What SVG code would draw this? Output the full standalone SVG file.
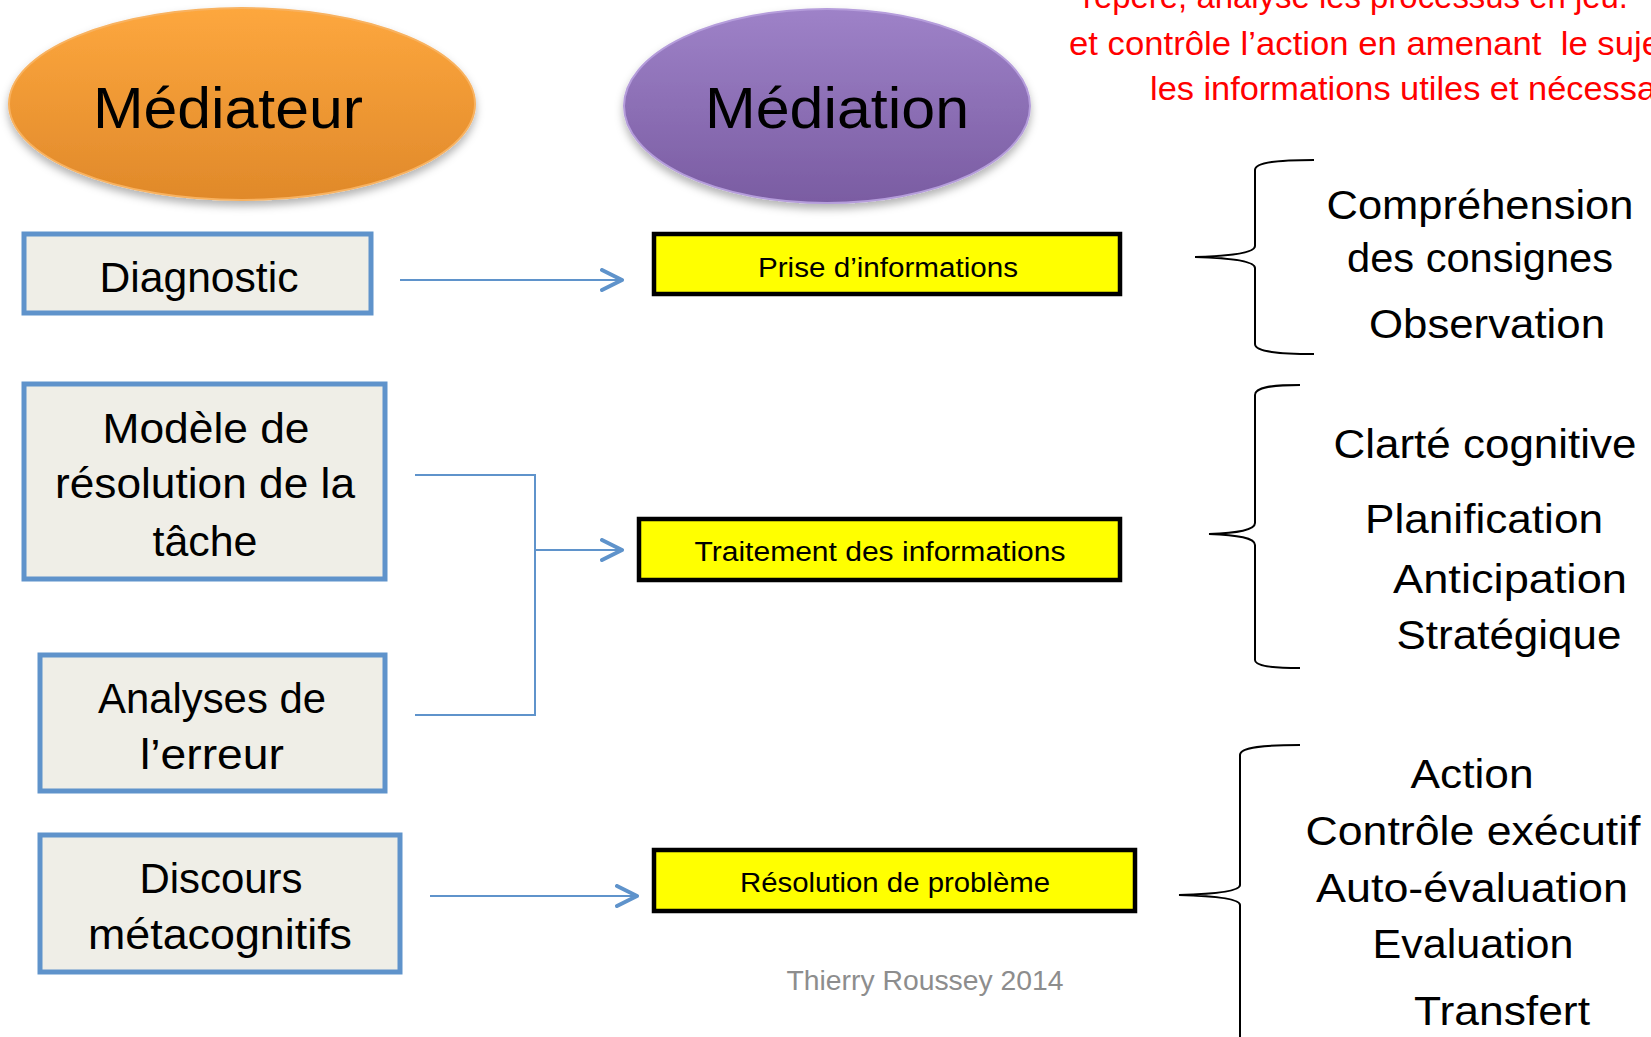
<svg xmlns="http://www.w3.org/2000/svg" width="1651" height="1037" viewBox="0 0 1651 1037">
<defs>
  <linearGradient id="gOrange" x1="0" y1="0" x2="0" y2="1">
    <stop offset="0" stop-color="#fda73e"/>
    <stop offset="1" stop-color="#e0892a"/>
  </linearGradient>
  <linearGradient id="gPurple" x1="0" y1="0" x2="0" y2="1">
    <stop offset="0" stop-color="#9e82c8"/>
    <stop offset="1" stop-color="#7a5ca2"/>
  </linearGradient>
  <filter id="shadow" x="-10%" y="-10%" width="120%" height="130%">
    <feDropShadow dx="0" dy="5" stdDeviation="4" flood-color="#000" flood-opacity="0.3"/>
  </filter>
  <marker id="chev" viewBox="0 0 24 24" refX="22" refY="12" markerWidth="24" markerHeight="24" markerUnits="userSpaceOnUse" orient="auto">
    <path d="M2,2 L22,12 L2,22" fill="none" stroke="#5f93cb" stroke-width="4" stroke-linecap="round" stroke-linejoin="round"/>
  </marker>
</defs>
<style>
  text { font-family: "Liberation Sans", Arial, sans-serif; fill: #000; }
  .box { fill: #efeee7; stroke: #5f93cb; stroke-width: 5; }
  .yel { fill: #ffff00; stroke: #000; stroke-width: 4.5; }
  .conn { fill: none; stroke: #5f93cb; stroke-width: 2; }
  .brace { fill: none; stroke: #000; stroke-width: 2; }
  .big { font-size: 57px; }
  .mid { font-size: 42px; }
  .rt { font-size: 40px; }
  .sm { font-size: 27px; }
  .red { font-size: 33px; fill: #ff0000; }
</style>

<g id="red-note">
  <text class="red" x="1083" y="8" textLength="545" lengthAdjust="spacingAndGlyphs">repère, analyse les processus en jeu.</text>
  <text class="red" x="1069" y="55" xml:space="preserve" textLength="592" lengthAdjust="spacingAndGlyphs">et contrôle l’action en amenant  le suje</text>
  <text class="red" x="1150" y="100" textLength="506" lengthAdjust="spacingAndGlyphs">les informations utiles et nécessa</text>
</g>

<g id="mediateur">
  <ellipse cx="242" cy="104" rx="233" ry="96" fill="url(#gOrange)" stroke="#f8b260" stroke-width="2" filter="url(#shadow)"/>
  <text class="big" x="228" y="128" text-anchor="middle" textLength="270" lengthAdjust="spacingAndGlyphs">Médiateur</text>
</g>

<g id="mediation">
  <ellipse cx="827" cy="106" rx="203" ry="97" fill="url(#gPurple)" stroke="#b59ddb" stroke-width="2" filter="url(#shadow)"/>
  <text class="big" x="837" y="128" text-anchor="middle" textLength="264" lengthAdjust="spacingAndGlyphs">Médiation</text>
</g>

<g id="diagnostic">
  <rect class="box" x="24" y="234" width="347" height="79"/>
  <text class="mid" x="199" y="292" text-anchor="middle" textLength="199" lengthAdjust="spacingAndGlyphs">Diagnostic</text>
</g>

<g id="modele">
  <rect class="box" x="24" y="384" width="361" height="195"/>
  <text class="mid" x="206" y="443" text-anchor="middle" textLength="207" lengthAdjust="spacingAndGlyphs">Modèle de</text>
  <text class="mid" x="205" y="498" text-anchor="middle" textLength="300" lengthAdjust="spacingAndGlyphs">résolution de la</text>
  <text class="mid" x="205" y="556" text-anchor="middle" textLength="105" lengthAdjust="spacingAndGlyphs">tâche</text>
</g>

<g id="analyses">
  <rect class="box" x="40" y="655" width="345" height="136"/>
  <text class="mid" x="212" y="713" text-anchor="middle" textLength="228" lengthAdjust="spacingAndGlyphs">Analyses de</text>
  <text class="mid" x="212" y="769" text-anchor="middle" textLength="144" lengthAdjust="spacingAndGlyphs">l’erreur</text>
</g>

<g id="discours">
  <rect class="box" x="40" y="835" width="360" height="137"/>
  <text class="mid" x="221" y="893" text-anchor="middle" textLength="163" lengthAdjust="spacingAndGlyphs">Discours</text>
  <text class="mid" x="220" y="949" text-anchor="middle" textLength="264" lengthAdjust="spacingAndGlyphs">métacognitifs</text>
</g>

<g id="prise">
  <rect class="yel" x="654" y="234" width="466" height="60"/>
  <text class="sm" x="888" y="277" text-anchor="middle" textLength="260" lengthAdjust="spacingAndGlyphs">Prise d’informations</text>
</g>

<g id="traitement">
  <rect class="yel" x="639" y="519" width="481" height="61"/>
  <text class="sm" x="880" y="561" text-anchor="middle" textLength="371" lengthAdjust="spacingAndGlyphs">Traitement des informations</text>
</g>

<g id="resolution">
  <rect class="yel" x="654" y="850" width="481" height="61"/>
  <text class="sm" x="895" y="892" text-anchor="middle" textLength="310" lengthAdjust="spacingAndGlyphs">Résolution de problème</text>
</g>

<g id="connectors">
  <line class="conn" x1="400" y1="280" x2="622" y2="280" marker-end="url(#chev)"/>
  <polyline class="conn" points="415,475 535,475 535,715 415,715"/>
  <line class="conn" x1="535" y1="550" x2="622" y2="550" marker-end="url(#chev)"/>
  <line class="conn" x1="430" y1="896" x2="637" y2="896" marker-end="url(#chev)"/>
</g>

<g id="brace-prise">
  <path class="brace" d="M1314,160 C1280,160 1255,162 1255,170 L1255,246 C1255,253 1232,256 1195,257 C1232,258 1255,261 1255,268 L1255,344 C1255,352 1280,354 1314,354"/>
  <text class="rt" x="1480" y="219" text-anchor="middle" textLength="307" lengthAdjust="spacingAndGlyphs">Compréhension</text>
  <text class="rt" x="1480" y="272" text-anchor="middle" textLength="266" lengthAdjust="spacingAndGlyphs">des consignes</text>
  <text class="rt" x="1487" y="338" text-anchor="middle" textLength="236" lengthAdjust="spacingAndGlyphs">Observation</text>
</g>

<g id="brace-traitement">
  <path class="brace" d="M1300,385 C1272,385 1255,387 1255,395 L1255,523 C1255,530 1238,533 1209,534 C1238,535 1255,538 1255,545 L1255,660 C1255,666 1272,668 1300,668"/>
  <text class="rt" x="1485" y="458" text-anchor="middle" textLength="303" lengthAdjust="spacingAndGlyphs">Clarté cognitive</text>
  <text class="rt" x="1484" y="533" text-anchor="middle" textLength="238" lengthAdjust="spacingAndGlyphs">Planification</text>
  <text class="rt" x="1510" y="593" text-anchor="middle" textLength="234" lengthAdjust="spacingAndGlyphs">Anticipation</text>
  <text class="rt" x="1509" y="649" text-anchor="middle" textLength="225" lengthAdjust="spacingAndGlyphs">Stratégique</text>
</g>

<g id="brace-resolution">
  <path class="brace" d="M1300,745 C1265,745 1240,747 1240,755 L1240,885 C1240,891 1215,894 1179,895 C1215,896 1240,899 1240,905 L1240,1060"/>
  <text class="rt" x="1472" y="788" text-anchor="middle" textLength="123" lengthAdjust="spacingAndGlyphs">Action</text>
  <text class="rt" x="1473" y="845" text-anchor="middle" textLength="335" lengthAdjust="spacingAndGlyphs">Contrôle exécutif</text>
  <text class="rt" x="1472" y="902" text-anchor="middle" textLength="312" lengthAdjust="spacingAndGlyphs">Auto-évaluation</text>
  <text class="rt" x="1473" y="958" text-anchor="middle" textLength="201" lengthAdjust="spacingAndGlyphs">Evaluation</text>
  <text class="rt" x="1502" y="1025" text-anchor="middle" textLength="176" lengthAdjust="spacingAndGlyphs">Transfert</text>
</g>

<g id="credit">
  <text x="925" y="990" text-anchor="middle" font-size="27" style="fill:#8d8d8d" textLength="277" lengthAdjust="spacingAndGlyphs">Thierry Roussey 2014</text>
</g>
</svg>
